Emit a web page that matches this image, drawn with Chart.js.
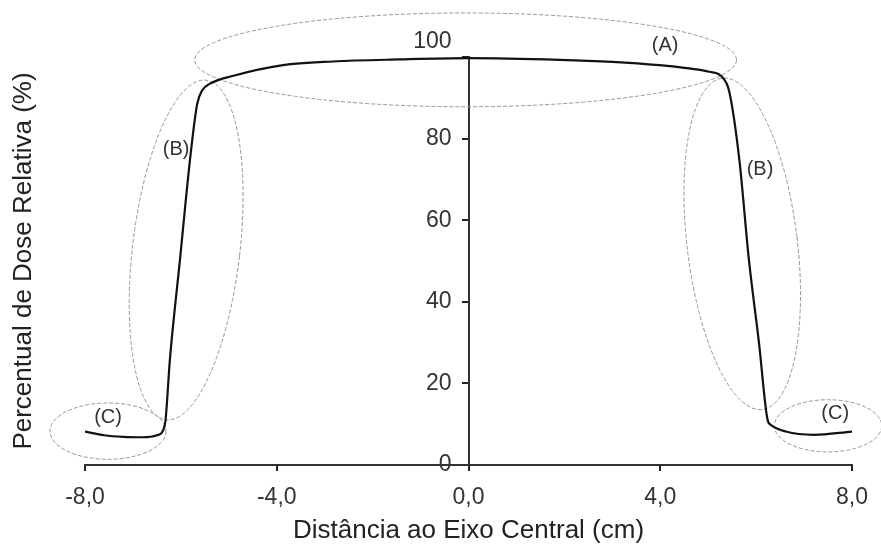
<!DOCTYPE html>
<html>
<head>
<meta charset="utf-8">
<title>Perfil de dose</title>
<script src="https://cdn.jsdelivr.net/npm/chart.js@4.4.1/dist/chart.umd.min.js"></script>
<style>
  html, body { margin: 0; padding: 0; background: #fff; }
  #box { width: 881px; height: 549px; }
</style>
</head>
<body>
<div id="box"><canvas id="perfil" width="881" height="549"></canvas></div>
<script>
// distancia ao eixo central (cm) e dose relativa (%)
var distancia = [-8.0, -7.6, -7.2, -6.8, -6.5, -6.37, -6.32, -6.23, -6.02, -5.81, -5.66, -5.55, -5.4, -4.9, -3.87, -2.83, -1.44, 0.0,
                 1.9, 3.0, 3.98, 4.6, 5.02, 5.3, 5.44, 5.65, 5.85, 6.06, 6.24, 6.31, 6.62, 7.2, 8.0];
var dose = [8.2, 7.3, 6.9, 6.8, 7.3, 8.5, 11.0, 25.7, 50.2, 74.8, 88.5, 91.9, 93.4, 95.4, 98.0, 98.9, 99.4, 99.7,
            99.3, 98.8, 98.0, 97.2, 96.4, 95.0, 91.5, 74.8, 50.2, 29.9, 11.0, 9.8, 8.2, 7.4, 8.2];

// ticks dos eixos
var ticksX = [-8, -4, 0, 4, 8];
var ticksY = [0, 20, 40, 60, 80, 100];

// regioes marcadas (A), (B), (C): centro e raios em unidades dos eixos
var regiaoNome = ['(A)', '(B)', '(B)', '(C)', '(C)'];
var regiaoX = [-0.06, -5.89, 5.71, -7.52, 7.5];
var regiaoY = [99.3, 52.7, 54.2, 8.3, 9.6];
var regiaoRx = [5.65, 1.12, 1.15, 1.21, 1.12];
var regiaoRy = [11.5, 41.9, 40.9, 6.9, 6.4];
var regiaoRot = [0, 6.7, -6.9, 0, 0];
var rotuloX = [4.1, -6.1, 6.08, -7.52, 7.65];
var rotuloY = [102.8, 77.3, 72.5, 11.6, 12.6];

var pontos = distancia.map(function (x, i) { return { x: x, y: dose[i] }; });

Chart.defaults.font.family = "'Liberation Sans', Arial, sans-serif";
Chart.defaults.color = '#333';

// desenha as elipses tracejadas e os rotulos
var regioes = {
  id: 'regioes',
  beforeDatasetsDraw: function (chart) {
    var ctx = chart.ctx;
    var sx = chart.scales.x, sy = chart.scales.y;
    ctx.save();
    ctx.strokeStyle = '#969696';
    ctx.lineWidth = 1;
    ctx.setLineDash([4, 2]);
    for (var i = 0; i < regiaoNome.length; i++) {
      var cx = sx.getPixelForValue(regiaoX[i]);
      var cy = sy.getPixelForValue(regiaoY[i]);
      var rx = Math.abs(sx.getPixelForValue(regiaoX[i] + regiaoRx[i]) - cx);
      var ry = Math.abs(sy.getPixelForValue(regiaoY[i] + regiaoRy[i]) - cy);
      ctx.beginPath();
      ctx.ellipse(cx, cy, rx, ry, regiaoRot[i] * Math.PI / 180, 0, Math.PI * 2);
      ctx.stroke();
    }
    ctx.setLineDash([]);
    ctx.fillStyle = '#333';
    ctx.font = "20px 'Liberation Sans', Arial, sans-serif";
    ctx.textAlign = 'center';
    ctx.textBaseline = 'middle';
    for (var j = 0; j < regiaoNome.length; j++) {
      ctx.fillText(regiaoNome[j], sx.getPixelForValue(rotuloX[j]), sy.getPixelForValue(rotuloY[j]));
    }
    ctx.restore();
  },
  // rotulos do eixo y, a esquerda do eixo central (o 100 fica acima da linha)
  afterDraw: function (chart) {
    var ctx = chart.ctx;
    var sx = chart.scales.x, sy = chart.scales.y;
    var x0 = sx.getPixelForValue(0) - 17;
    ctx.save();
    ctx.fillStyle = '#333';
    ctx.font = "23px 'Liberation Sans', Arial, sans-serif";
    ctx.textAlign = 'right';
    ctx.textBaseline = 'middle';
    ticksY.forEach(function (v) {
      var y = sy.getPixelForValue(v);
      if (v === sy.max) y -= 15;
      ctx.fillText(String(v), x0, y);
    });
    ctx.restore();
  }
};

var ctx = document.getElementById('perfil').getContext('2d');

var grafico = new Chart(ctx, {
  type: 'line',
  data: {
    datasets: [{
      data: pontos,
      borderColor: '#111',
      borderWidth: 2.2,
      pointRadius: 0,
      cubicInterpolationMode: 'monotone',
      fill: false
    }]
  },
  options: {
    responsive: false,
    animation: false,
    layout: { padding: { left: 0, right: 28, top: 57, bottom: 0 } },
    plugins: { legend: { display: false }, tooltip: { enabled: false } },
    scales: {
      x: {
        type: 'linear',
        position: 'bottom',
        min: -8,
        max: 8,
        afterBuildTicks: function (s) { s.ticks = ticksX.map(function (v) { return { value: v }; }); },
        afterFit: function (s) { s.height = 84; },
        ticks: {
          font: { size: 23 },
          color: '#333',
          padding: 13,
          maxRotation: 0,
          callback: function (v) { return v.toFixed(1).replace('.', ','); }
        },
        grid: { display: true, drawOnChartArea: false, drawTicks: true, tickLength: 6, color: '#222', lineWidth: 2 },
        border: { display: true, color: '#333', width: 2 },
        title: { display: true, text: 'Distância ao Eixo Central (cm)', font: { size: 26 }, color: '#222', padding: { top: 0, bottom: 3 } }
      },
      y: {
        type: 'linear',
        position: { x: 0 },
        min: 0,
        max: 100,
        afterBuildTicks: function (s) { s.ticks = ticksY.map(function (v) { return { value: v }; }); },
        ticks: { display: false },
        grid: { display: true, drawOnChartArea: false, drawTicks: true, tickLength: 6, color: '#222', lineWidth: 2 },
        border: { display: true, color: '#333', width: 2 }
      },
      yTitulo: {
        type: 'linear',
        position: 'left',
        min: 0,
        max: 100,
        afterFit: function (s) { s.width = 85; },
        ticks: { display: false },
        grid: { display: false, drawTicks: false },
        border: { display: false },
        title: { display: true, text: 'Percentual de Dose Relativa (%)', font: { size: 26 }, color: '#222', padding: { top: 8, bottom: 0 } }
      }
    }
  },
  plugins: [regioes]
});
</script>
</body>
</html>
